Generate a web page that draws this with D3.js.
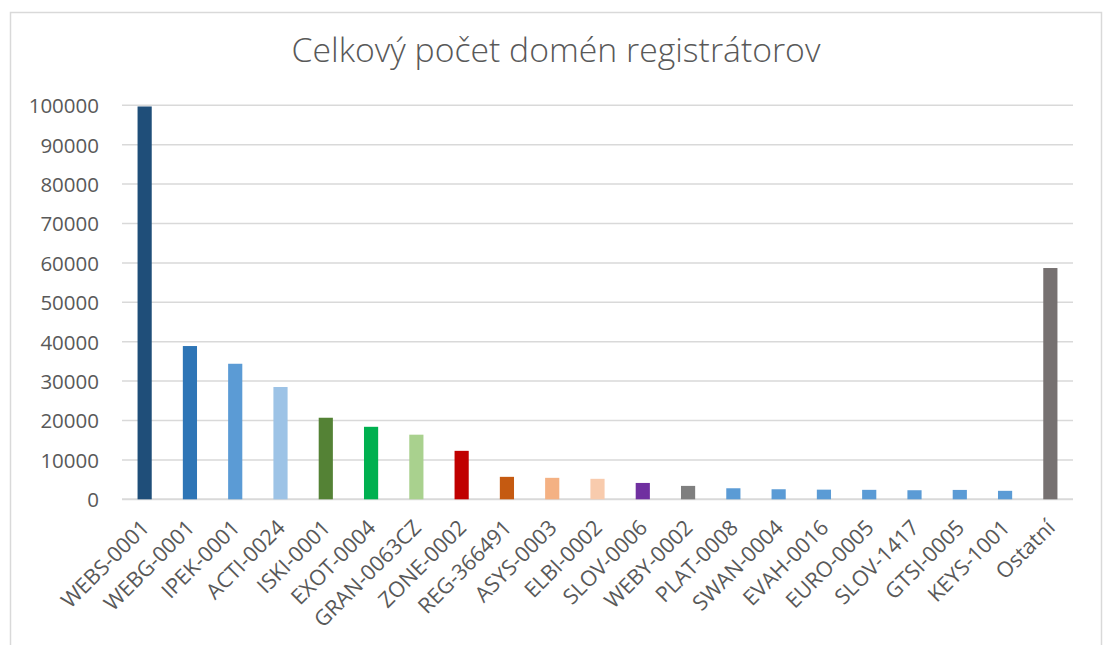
<!DOCTYPE html>
<html>
<head>
<meta charset="utf-8">
<script src="https://cdn.jsdelivr.net/npm/d3@7"></script>
<style>
  body { margin: 0; background: #fff; }
  svg { display: block; }
</style>
</head>
<body>
<div id="chart"></div>
<script>
// registrar codes and domain counts
const registrars = ["WEBS-0001", "WEBG-0001", "IPEK-0001", "ACTI-0024", "ISKI-0001", "EXOT-0004",
    "GRAN-0063CZ", "ZONE-0002", "REG-366491", "ASYS-0003", "ELBI-0002", "SLOV-0006", "WEBY-0002",
    "PLAT-0008", "SWAN-0004", "EVAH-0016", "EURO-0005", "SLOV-1417", "GTSI-0005", "KEYS-1001", "Ostatní"];
const domainCounts = [99700, 38900, 34400, 28500, 20700, 18400, 16400, 12300, 5700, 5450, 5200,
    4150, 3400, 2800, 2550, 2450, 2400, 2300, 2380, 2150, 58700];
const barColors = ["#1F4E79", "#2E75B6", "#5B9BD5", "#9DC3E6", "#548235", "#00B050", "#A9D18E",
    "#C00000", "#C55A11", "#F4B183", "#F8CBAD", "#7030A0", "#7F7F7F", "#5B9BD5", "#5B9BD5",
    "#5B9BD5", "#5B9BD5", "#5B9BD5", "#5B9BD5", "#5B9BD5", "#767171"];
const yTicks = [0, 10000, 20000, 30000, 40000, 50000, 60000, 70000, 80000, 90000, 100000];
const chartTitle = "Celkový počet domén registrátorov";

const width = 1107, height = 645;
const plot = { left: 122, right: 1073, top: 105.3, bottom: 499.3 };
const textColor = "#595959";
const fontFamily = "'Open Sans', 'DejaVu Sans', sans-serif";

const svg = d3.select("#chart").append("svg")
    .attr("width", width)
    .attr("height", height);

svg.append("rect")
    .attr("width", width).attr("height", height).attr("fill", "#fff");

// chart frame
svg.append("rect")
    .attr("x", 10.5).attr("y", 12.5)
    .attr("width", 1091).attr("height", 700)
    .attr("fill", "none")
    .attr("stroke", "#D9D9D9")
    .attr("stroke-width", 1.5);

const x = d3.scaleBand()
    .domain(registrars)
    .range([plot.left, plot.right])
    .padding(0);

const y = d3.scaleLinear()
    .domain([0, 100000])
    .range([plot.bottom, plot.top]);

// gridlines
svg.append("g")
    .selectAll("line")
    .data(yTicks)
    .enter()
    .append("line")
    .attr("x1", plot.left)
    .attr("x2", plot.right)
    .attr("y1", d => y(d))
    .attr("y2", d => y(d))
    .attr("stroke", "#D9D9D9")
    .attr("stroke-width", d => d === 0 ? 2 : 1.5);

// y axis labels
const yAxis = d3.axisLeft(y).tickValues(yTicks).tickSize(0).tickPadding(0).tickFormat(d3.format("d"));
const yg = svg.append("g")
    .attr("transform", `translate(99,0)`)
    .call(yAxis);
yg.select(".domain").remove();
yg.selectAll("text")
    .attr("fill", textColor)
    .attr("font-family", fontFamily)
    .attr("font-size", 20.5)
    .attr("dy", "0.36em");

// bars
const barWidth = x.bandwidth() * 0.313;
svg.append("g")
    .selectAll("rect")
    .data(registrars)
    .enter()
    .append("rect")
    .attr("x", d => x(d) + x.bandwidth() / 2 - barWidth / 2)
    .attr("y", (d, i) => y(domainCounts[i]))
    .attr("width", barWidth)
    .attr("height", (d, i) => y(0) - y(domainCounts[i]))
    .attr("fill", (d, i) => barColors[i]);

// x axis labels, rotated
svg.append("g")
    .selectAll("text")
    .data(registrars)
    .enter()
    .append("text")
    .attr("transform", d => `translate(${x(d) + x.bandwidth() / 2 + 6},${529}) rotate(-45)`)
    .attr("text-anchor", "end")
    .attr("fill", textColor)
    .attr("font-family", fontFamily)
    .attr("font-size", 21.5)
    .text(d => d);

// title, fitted to the width seen in the picture
const title = svg.append("text")
    .attr("x", 556)
    .attr("y", 62)
    .attr("text-anchor", "middle")
    .attr("fill", textColor)
    .attr("font-family", fontFamily)
    .attr("font-weight", 300)
    .attr("font-size", 30)
    .text(chartTitle);
const tw = title.node().getComputedTextLength();
title.attr("font-size", 30 * 529 / tw);
</script>
</body>
</html>
